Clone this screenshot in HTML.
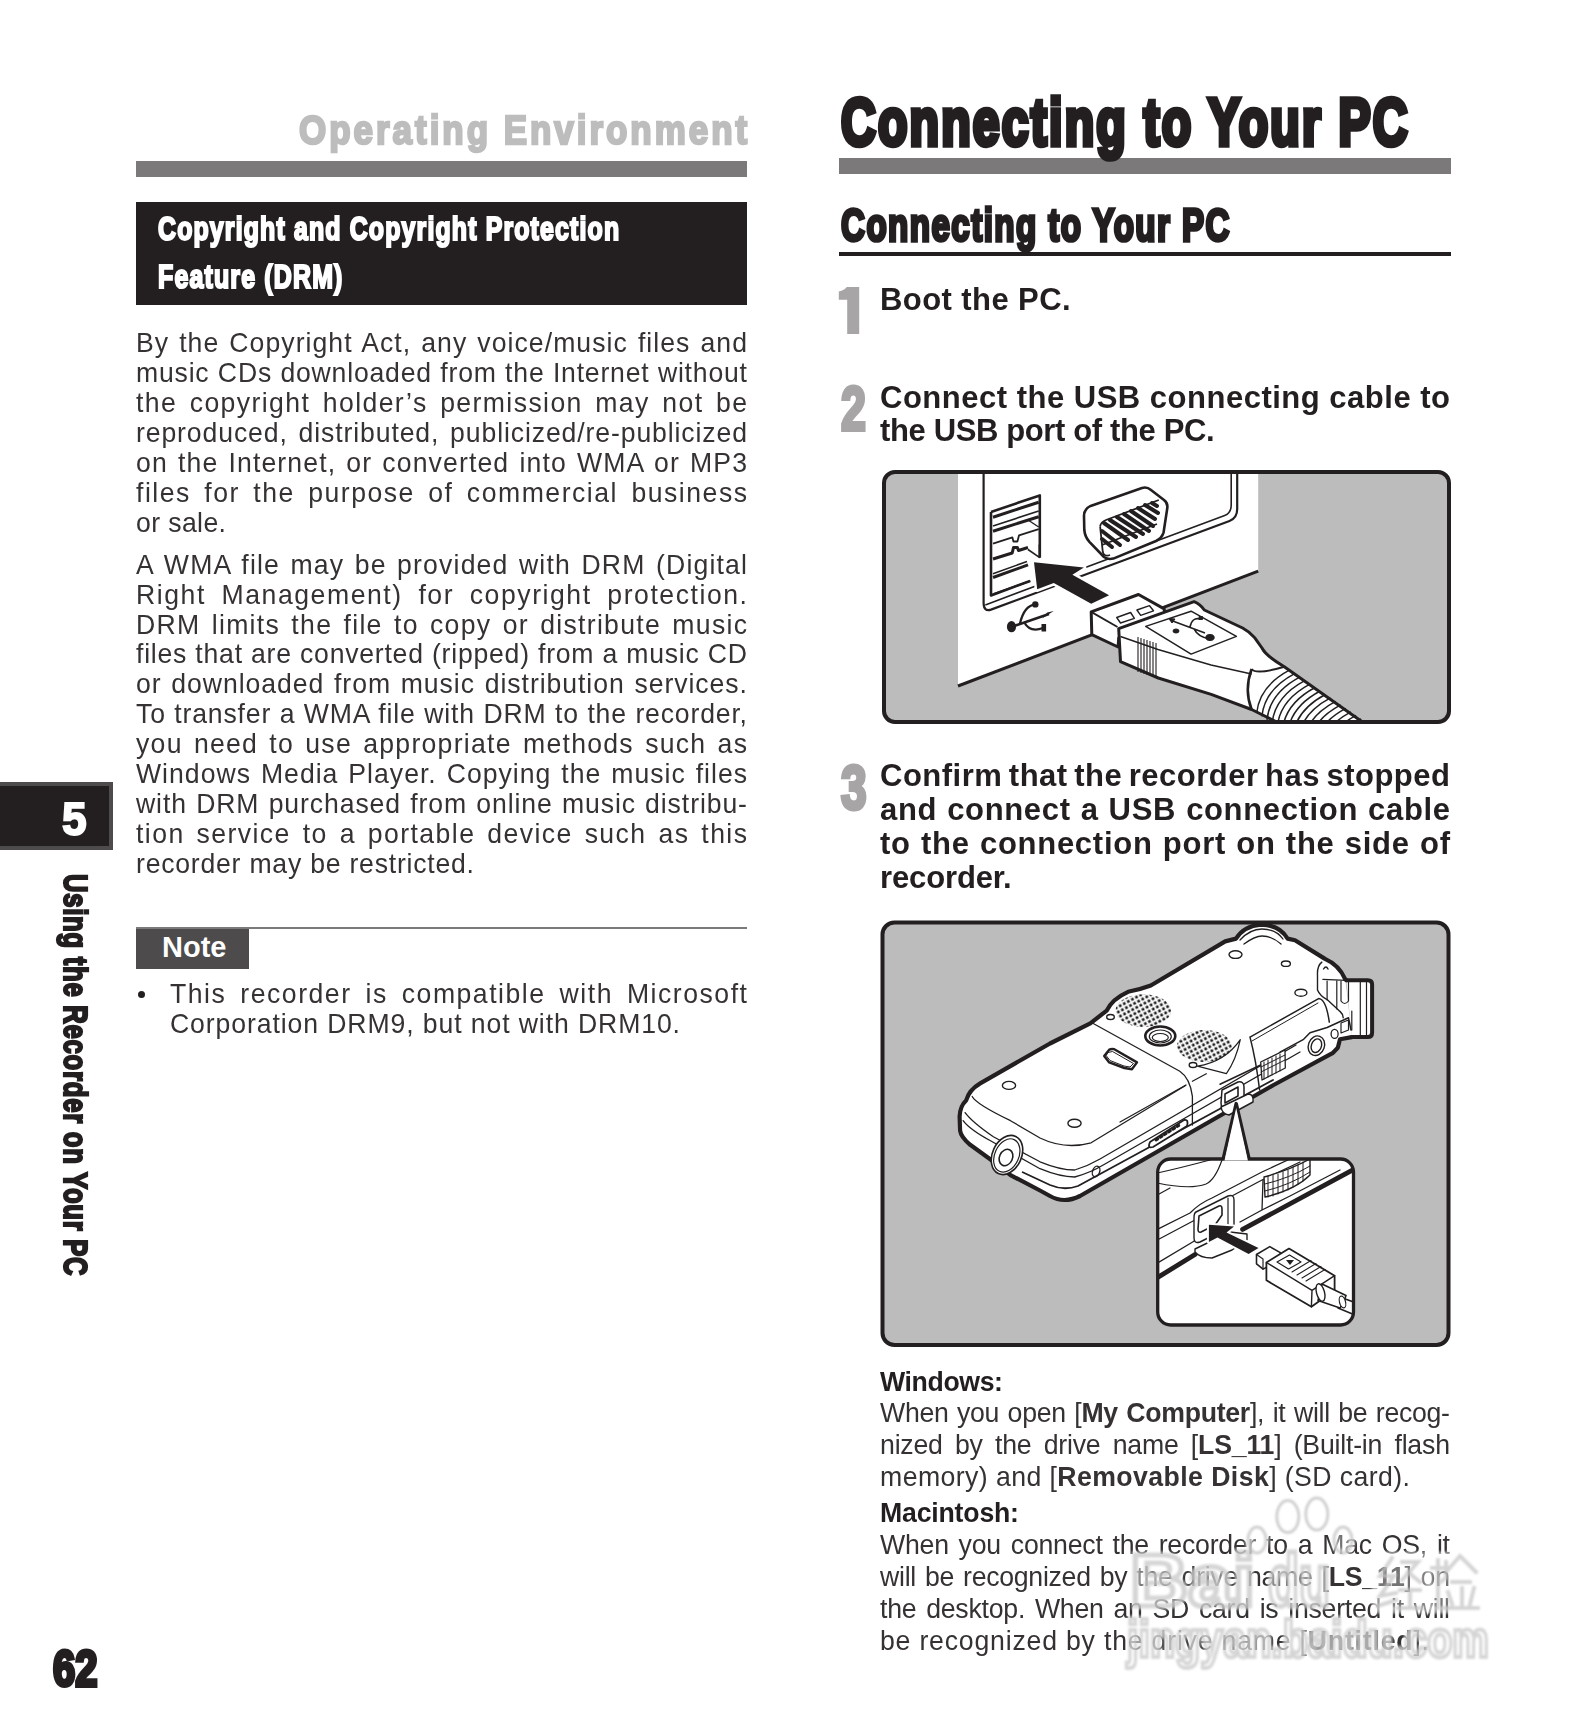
<!DOCTYPE html>
<html><head><meta charset="utf-8"><title>Connecting to Your PC</title>
<style>
html,body{margin:0;padding:0;background:#fff;}
body{width:1587px;height:1735px;position:relative;overflow:hidden;font-family:"Liberation Sans",sans-serif;color:#231f20;}
.t{position:absolute;white-space:pre;}
.r{position:absolute;}
.h{position:absolute;white-space:pre;font-weight:700;}
svg{position:absolute;}
</style></head><body>
<div class="r" style="left:136px;top:161px;width:611px;height:16px;background:#7b797a;"></div>
<div class="r" style="left:136px;top:202px;width:611px;height:103px;background:#231f20;"></div>
<div class="r" style="left:839px;top:158px;width:612px;height:16px;background:#7b797a;"></div>
<div class="r" style="left:839px;top:252px;width:612px;height:4px;background:#231f20;"></div>
<div class="r" style="left:136px;top:927px;width:611px;height:2px;background:#7b797a;"></div>
<div class="r" style="left:136px;top:929px;width:113px;height:40px;background:#4d4b4c;"></div>
<div class="r" style="left:0px;top:782px;width:113px;height:68px;background:#231f20;box-sizing:border-box;border:4px solid #4d4b4c;border-left:none"></div>
<div class="r" style="left:138px;top:990.7px;width:7.4px;height:7.4px;border-radius:50%;background:#231f20"></div>
<div class="h" style="right:837.40px;top:105.41px;font-size:41.37px;line-height:50px;color:#bdbdbd;letter-spacing:3.5px;transform:scaleX(0.846);transform-origin:right top;-webkit-text-stroke:2.5px #bdbdbd">Operating Environment</div>
<div class="h" style="left:158.40px;top:209.93px;font-size:32.5px;line-height:39px;color:#fff;letter-spacing:1.5px;transform:scaleX(0.766);transform-origin:left top;-webkit-text-stroke:2.2px #fff">Copyright and Copyright Protection</div>
<div class="h" style="left:158.40px;top:257.63px;font-size:32.5px;line-height:39px;color:#fff;letter-spacing:1.5px;transform:scaleX(0.768);transform-origin:left top;-webkit-text-stroke:2.2px #fff">Feature (DRM)</div>
<div class="h" style="left:840.70px;top:82.86px;font-size:66.01px;line-height:79px;color:#231f20;letter-spacing:3px;transform:scaleX(0.73);transform-origin:left top;-webkit-text-stroke:5.5px #231f20">Connecting to Your PC</div>
<div class="h" style="left:840.70px;top:197.87px;font-size:45.67px;line-height:55px;color:#231f20;letter-spacing:2px;transform:scaleX(0.7256);transform-origin:left top;-webkit-text-stroke:3.6px #231f20">Connecting to Your PC</div>
<svg style="left:836px;top:284px" width="26" height="53" viewBox="836 284 26 53"><path d="M838.8,299.8 V291.5 Q844.5,290 846.8,287 H859.2 V334 H847.2 V299.8 Z" fill="#a7a5a6"/></svg>
<div class="h" style="left:841.00px;top:370.64px;font-size:62.19px;line-height:75px;color:#a7a5a6;letter-spacing:0px;transform:scaleX(0.72);transform-origin:left top;-webkit-text-stroke:4px #a7a5a6">2</div>
<div class="h" style="left:841.00px;top:749.94px;font-size:62.19px;line-height:75px;color:#a7a5a6;letter-spacing:0px;transform:scaleX(0.74);transform-origin:left top;-webkit-text-stroke:4px #a7a5a6">3</div>
<div class="h" style="left:62.00px;top:790.17px;font-size:47.09px;line-height:57px;color:#fff;letter-spacing:0px;transform:scaleX(0.94);transform-origin:left top;-webkit-text-stroke:2px #fff">5</div>
<div class="h" style="left:53.00px;top:1638.60px;font-size:50.19px;line-height:60px;color:#231f20;letter-spacing:0px;transform:scaleX(0.796);transform-origin:left top;-webkit-text-stroke:4px #231f20">62</div>
<div class="h" style="left:162.00px;top:929.75px;font-size:29px;line-height:35px;color:#fff;letter-spacing:0px;transform:scaleX(1.0);transform-origin:left top;">Note</div>
<div class="h" style="left:62px;top:874px;width:0;height:0"><div style="position:absolute;left:0;top:0;transform:rotate(90deg);transform-origin:0 0"><div class="h" style="left:0;top:-34.59px;font-size:33px;line-height:44px;-webkit-text-stroke:2.2px #231f20;letter-spacing:1px;transform:scaleX(0.775);transform-origin:left top">Using the Recorder on Your PC</div></div></div>
<div class="t" style="left:136.00px;top:326.29px;font-size:28px;line-height:34px;font-weight:400;color:#363233;letter-spacing:1.109px;word-spacing:1.662px;transform:scaleX(0.95);transform-origin:left top">By the Copyright Act, any voice/music files and</div>
<div class="t" style="left:136.00px;top:356.29px;font-size:28px;line-height:34px;font-weight:400;color:#363233;letter-spacing:0.840px;word-spacing:0.247px;transform:scaleX(0.95);transform-origin:left top">music CDs downloaded from the Internet without</div>
<div class="t" style="left:136.00px;top:386.29px;font-size:28px;line-height:34px;font-weight:400;color:#363233;letter-spacing:1.473px;word-spacing:3.945px;transform:scaleX(0.95);transform-origin:left top">the copyright holder’s permission may not be</div>
<div class="t" style="left:136.00px;top:416.29px;font-size:28px;line-height:34px;font-weight:400;color:#363233;letter-spacing:0.935px;word-spacing:2.642px;transform:scaleX(0.95);transform-origin:left top">reproduced, distributed, publicized/re-publicized</div>
<div class="t" style="left:136.00px;top:446.29px;font-size:28px;line-height:34px;font-weight:400;color:#363233;letter-spacing:1.182px;word-spacing:1.719px;transform:scaleX(0.95);transform-origin:left top">on the Internet, or converted into WMA or MP3</div>
<div class="t" style="left:136.00px;top:476.29px;font-size:28px;line-height:34px;font-weight:400;color:#363233;letter-spacing:1.600px;word-spacing:4.688px;transform:scaleX(0.95);transform-origin:left top">files for the purpose of commercial business</div>
<div class="t" style="left:136.00px;top:506.29px;font-size:28px;line-height:34px;font-weight:400;color:#363233;letter-spacing:0.416px;transform:scaleX(0.95);transform-origin:left top">or sale.</div>
<div class="t" style="left:136.00px;top:547.79px;font-size:28px;line-height:34px;font-weight:400;color:#363233;letter-spacing:1.242px;word-spacing:1.945px;transform:scaleX(0.95);transform-origin:left top">A WMA file may be provided with DRM (Digital</div>
<div class="t" style="left:136.00px;top:577.69px;font-size:28px;line-height:34px;font-weight:400;color:#363233;letter-spacing:1.629px;word-spacing:7.119px;transform:scaleX(0.95);transform-origin:left top">Right Management) for copyright protection.</div>
<div class="t" style="left:136.00px;top:607.59px;font-size:28px;line-height:34px;font-weight:400;color:#363233;letter-spacing:1.371px;word-spacing:2.686px;transform:scaleX(0.95);transform-origin:left top">DRM limits the file to copy or distribute music</div>
<div class="t" style="left:136.00px;top:637.49px;font-size:28px;line-height:34px;font-weight:400;color:#363233;letter-spacing:0.811px;word-spacing:0.055px;transform:scaleX(0.95);transform-origin:left top">files that are converted (ripped) from a music CD</div>
<div class="t" style="left:136.00px;top:667.39px;font-size:28px;line-height:34px;font-weight:400;color:#363233;letter-spacing:0.998px;word-spacing:1.489px;transform:scaleX(0.95);transform-origin:left top">or downloaded from music distribution services.</div>
<div class="t" style="left:136.00px;top:697.29px;font-size:28px;line-height:34px;font-weight:400;color:#363233;letter-spacing:0.876px;word-spacing:0.323px;transform:scaleX(0.95);transform-origin:left top">To transfer a WMA file with DRM to the recorder,</div>
<div class="t" style="left:136.00px;top:727.19px;font-size:28px;line-height:34px;font-weight:400;color:#363233;letter-spacing:1.342px;word-spacing:2.662px;transform:scaleX(0.95);transform-origin:left top">you need to use appropriate methods such as</div>
<div class="t" style="left:136.00px;top:757.09px;font-size:28px;line-height:34px;font-weight:400;color:#363233;letter-spacing:1.066px;word-spacing:1.595px;transform:scaleX(0.95);transform-origin:left top">Windows Media Player. Copying the music files</div>
<div class="t" style="left:136.00px;top:786.99px;font-size:28px;line-height:34px;font-weight:400;color:#363233;letter-spacing:0.955px;word-spacing:0.954px;transform:scaleX(0.95);transform-origin:left top">with DRM purchased from online music distribu-</div>
<div class="t" style="left:136.00px;top:816.89px;font-size:28px;line-height:34px;font-weight:400;color:#363233;letter-spacing:1.506px;word-spacing:3.249px;transform:scaleX(0.95);transform-origin:left top">tion service to a portable device such as this</div>
<div class="t" style="left:136.00px;top:846.79px;font-size:28px;line-height:34px;font-weight:400;color:#363233;letter-spacing:0.816px;transform:scaleX(0.95);transform-origin:left top">recorder may be restricted.</div>
<div class="t" style="left:170.00px;top:977.29px;font-size:28px;line-height:34px;font-weight:400;color:#363233;letter-spacing:1.598px;word-spacing:5.357px;transform:scaleX(0.95);transform-origin:left top">This recorder is compatible with Microsoft</div>
<div class="t" style="left:170.00px;top:1007.29px;font-size:28px;line-height:34px;font-weight:400;color:#363233;letter-spacing:0.950px;transform:scaleX(0.95);transform-origin:left top">Corporation DRM9, but not with DRM10.</div>
<div class="t" style="left:880.00px;top:279.91px;font-size:32px;line-height:38px;font-weight:700;color:#231f20;letter-spacing:0.410px;transform:scaleX(0.97);transform-origin:left top">Boot the PC.</div>
<div class="t" style="left:880.00px;top:377.91px;font-size:32px;line-height:38px;font-weight:700;color:#231f20;letter-spacing:0.500px;word-spacing:-0.018px;transform:scaleX(0.97);transform-origin:left top">Connect the USB connecting cable to</div>
<div class="t" style="left:880.00px;top:411.41px;font-size:32px;line-height:38px;font-weight:700;color:#231f20;letter-spacing:-0.401px;transform:scaleX(0.97);transform-origin:left top">the USB port of the PC.</div>
<div class="t" style="left:880.00px;top:755.91px;font-size:32px;line-height:38px;font-weight:700;color:#231f20;letter-spacing:0.500px;word-spacing:-2.712px;transform:scaleX(0.97);transform-origin:left top">Confirm that the recorder has stopped</div>
<div class="t" style="left:880.00px;top:789.91px;font-size:32px;line-height:38px;font-weight:700;color:#231f20;letter-spacing:0.654px;word-spacing:0.831px;transform:scaleX(0.97);transform-origin:left top">and connect a USB connection cable</div>
<div class="t" style="left:880.00px;top:823.91px;font-size:32px;line-height:38px;font-weight:700;color:#231f20;letter-spacing:0.729px;word-spacing:0.964px;transform:scaleX(0.97);transform-origin:left top">to the connection port on the side of</div>
<div class="t" style="left:880.00px;top:857.91px;font-size:32px;line-height:38px;font-weight:700;color:#231f20;letter-spacing:-0.149px;transform:scaleX(0.97);transform-origin:left top">recorder.</div>
<div class="t" style="left:880.00px;top:1364.97px;font-size:27.5px;line-height:33px;font-weight:700;color:#231f20;letter-spacing:-0.399px;transform:scaleX(0.97);transform-origin:left top">Windows:</div>
<div class="t" style="left:880.00px;top:1396.47px;font-size:27.5px;line-height:33px;font-weight:400;color:#363233;letter-spacing:-0.305px;word-spacing:1.426px;transform:scaleX(0.97);transform-origin:left top">When you open [<b>My Computer</b>], it will be recog-</div>
<div class="t" style="left:880.00px;top:1428.47px;font-size:27.5px;line-height:33px;font-weight:400;color:#363233;letter-spacing:-0.211px;word-spacing:5.187px;transform:scaleX(0.97);transform-origin:left top">nized by the drive name [<b>LS_11</b>] (Built-in flash</div>
<div class="t" style="left:880.00px;top:1460.47px;font-size:27.5px;line-height:33px;font-weight:400;color:#363233;letter-spacing:0.423px;transform:scaleX(0.97);transform-origin:left top">memory) and [<b>Removable Disk</b>] (SD card).</div>
<div class="t" style="left:880.00px;top:1496.47px;font-size:27.5px;line-height:33px;font-weight:700;color:#231f20;letter-spacing:-0.205px;transform:scaleX(0.97);transform-origin:left top">Macintosh:</div>
<div class="t" style="left:880.00px;top:1528.47px;font-size:27.5px;line-height:33px;font-weight:400;color:#363233;letter-spacing:-0.248px;word-spacing:2.817px;transform:scaleX(0.97);transform-origin:left top">When you connect the recorder to a Mac OS, it</div>
<div class="t" style="left:880.00px;top:1560.47px;font-size:27.5px;line-height:33px;font-weight:400;color:#363233;letter-spacing:-0.291px;word-spacing:1.937px;transform:scaleX(0.97);transform-origin:left top">will be recognized by the drive name [<b>LS_11</b>] on</div>
<div class="t" style="left:880.00px;top:1592.27px;font-size:27.5px;line-height:33px;font-weight:400;color:#363233;letter-spacing:-0.256px;word-spacing:2.773px;transform:scaleX(0.97);transform-origin:left top">the desktop. When an SD card is inserted it will</div>
<div class="t" style="left:880.00px;top:1623.97px;font-size:27.5px;line-height:33px;font-weight:400;color:#363233;letter-spacing:0.811px;transform:scaleX(0.97);transform-origin:left top">be recognized by the drive name [<b>Untitled</b>].</div>
<svg style="left:880px;top:468px" width="573" height="258" viewBox="880 468 573 258">
<defs><clipPath id="c1"><rect x="884" y="472" width="565" height="250" rx="10"/></clipPath></defs>
<rect x="884" y="472" width="565" height="250" rx="11" fill="#bcbcbc"/>
<g clip-path="url(#c1)" stroke="#231f20" fill="none" stroke-linejoin="round">
 <!-- PC back panel -->
 <path d="M958,470 H1258.2 V571.2 L958,686 Z" fill="#fff" stroke="none"/>
 <path d="M958,686 L1258.2,571.2" stroke-width="3"/>
 <!-- frame -->
 <path d="M983.6,470 V603 Q983.6,612 991,609.6 L1229.5,521 Q1237.2,518 1237.2,509 V470" stroke-width="2.2"/>
 <path d="M985.3,604.9 L1224.7,515.5 Q1231.2,513 1231.2,505 V470" stroke-width="1.6"/>
 <!-- USB port -->
 <path d="M991,512 L1039.8,495.4 V557.7 M991,512 V595.5 L1030,581" stroke-width="2.6" fill="#fff"/>
 <path d="M993,517.2 L1038.7,502.2 M993,531.2 L1038.7,516.7" stroke-width="3"/>
 <path d="M993,526 L1038.7,511" stroke-width="1.6"/>
 <path d="M993,543.7 L1012.4,537.4 L1013.4,541.5 L1017.4,541.5 L1019,535.4 L1038.7,529.2" stroke-width="1.8"/>
 <path d="M993,559 L1012.2,553 L1013.5,547.6 L1017.4,547.6 L1018.5,550.5 L1028,547.5" stroke-width="3"/>
 <path d="M1028,549.5 L1039.4,557.4 V544.5" stroke-width="1.6"/>
 <path d="M1028,520 L1038.7,527" stroke-width="1.4"/>
 <path d="M993,573.7 L1027,561.5" stroke-width="1.6"/>
 <path d="M993,577.5 L1028,564.9" stroke-width="3"/>
 <path d="M993,594 L1030.5,581" stroke-width="1.8"/>
 <!-- VGA connector -->
 <path d="M1090.6,505.9 L1142,488 Q1147,486.5 1151,490 L1164,500 Q1168,503 1167.3,508 L1163.6,532.3 Q1162,538 1156,541 L1113.3,558.6 Q1108,560 1104,557 L1089.4,541.8 Q1085,537 1084.3,530 L1084,516 Q1084,509 1090.6,505.9 Z" fill="#fff" stroke-width="2.6"/>
 <path d="M1100.1,526.3 Q1101,522 1106,520 L1158.8,500 M1100.1,526.3 L1102.8,552 Q1104,557 1110,555 M1102,545 L1157,524" stroke-width="1.8"/>
 <g stroke-width="4" stroke-linecap="round">
  <path d="M1104,523 L1128,540 M1110,520 L1136,537 M1117,517 L1143,534 M1124,514 L1149,531 M1131,511 L1153,526 M1138,508 L1155,519 M1145,505 L1158,513 M1152,503 L1157,506"/>
  <path d="M1102,531 L1120,545 M1102,539 L1112,547"/>
 </g>
 <path d="M1135,470" />
 <!-- USB symbol -->
 <g fill="#231f20" stroke="none">
  <ellipse cx="1011.5" cy="626.7" rx="4.6" ry="5.6"/>
  <circle cx="1035.3" cy="604.4" r="3.2"/>
  <path d="M1042,618.5 L1053.8,611 L1047.2,612.6 Z"/>
  <rect x="1041.5" y="624" width="4.6" height="7.5"/>
 </g>
 <path d="M1014,626 L1049,614" stroke-width="2.6"/>
 <path d="M1020,623.5 Q1024,606 1035,604.4 M1024,622 Q1030,633 1043,628" stroke-width="2.3"/>
 <!-- arrow -->
 <path d="M1034,562.3 L1083.9,567.5 L1072.4,574.8 L1109.1,595.2 L1091.2,603.7 L1053.8,583.1 L1037.2,589.3 Z" fill="#231f20" stroke="#fff" stroke-width="5" paint-order="stroke"/>
 <!-- plug metal shell -->
 <path d="M1091.2,611.9 L1138.5,594.5 L1164.2,608.9 L1165,620 L1118.7,638 L1118.1,647 L1091.8,634.6 Z" fill="#fff" stroke-width="3"/>
 <path d="M1091.2,611.9 L1117.5,627" stroke-width="1.8"/>
 <path d="M1116.7,617.5 L1130.6,612.5 L1134.4,618.3 L1120.5,623 Z M1136.9,610 L1149.5,605.7 L1153.5,610.8 L1140.7,615.3 Z" stroke-width="1.4"/>
 <!-- plug body -->
 <path d="M1118.7,628.6 L1194.1,601.7 Q1200,604 1204.3,610 L1242.6,628 Q1250,632 1254.6,637.6 L1262,648 Q1266,656 1284.3,666.7 L1362.4,722 L1276.8,722 L1251.6,709.5 L1211.2,694.4 L1158.3,678 L1120.5,661.6 Z" fill="#fff" stroke-width="3"/>
 <path d="M1145.7,626.4 L1191.1,611.2 L1236.4,636.4 L1191.1,654.1 Z" stroke-width="1.5"/>
 <path d="M1138,637 V672 M1141,638 V673 M1144,639 V674 M1147,640 V675 M1150,641 V676 M1153,642 V677 M1156,643 V678" stroke-width="1.1"/>
 <path d="M1120.5,636.5 L1158,649.5 L1211,665 L1251.6,674" stroke-width="1.5"/>
 <!-- usb logo on plug -->
 <path d="M1170,620 L1205,633 M1190,627 Q1192,617 1200,619 M1194,628.8 Q1198,637 1210,639" stroke="#231f20" stroke-width="1.6"/>
 <g fill="#231f20"><ellipse cx="1210" cy="637.5" rx="4.2" ry="3"/><ellipse cx="1176" cy="631" rx="3" ry="2"/><path d="M1169,618.5 L1175,619 L1172,623 Z"/><rect x="1199" y="616.5" width="3.5" height="3"/></g>
 <!-- cable boot ridges -->
 <path d="M1251.6,669 Q1244,690 1251.6,709.5" stroke-width="2.6"/>
 <path d="M1284.3,666.7 Q1256,675 1251.6,669" stroke-width="2"/>
 <path d="M1289.4,670.2 Q1259.4,686.2 1256.7,713.0 M1294.6,673.6 Q1264.6,689.6 1261.9,716.4 M1299.7,677.1 Q1269.7,693.1 1267.0,719.9 M1304.8,680.6 Q1274.8,696.6 1272.1,723.4 M1309.9,684.1 Q1279.9,700.1 1277.2,726.9 M1315.1,687.5 Q1285.1,703.5 1282.4,730.3 M1320.2,691.0 Q1290.2,707.0 1287.5,733.8 M1325.3,694.5 Q1295.3,710.5 1292.6,737.3 M1330.4,697.9 Q1300.4,713.9 1297.7,740.7 M1335.6,701.4 Q1305.6,717.4 1302.9,744.2 M1340.7,704.9 Q1310.7,720.9 1308.0,747.7 M1345.8,708.4 Q1315.8,724.4 1313.1,751.2 M1350.9,711.8 Q1320.9,727.8 1318.2,754.6 M1356.1,715.3 Q1326.1,731.3 1323.4,758.1 M1361.2,718.8 Q1331.2,734.8 1328.5,761.6 M1366.3,722.2 Q1336.3,738.2 1333.6,765.0" stroke-width="1.5"/>
</g>
<rect x="884" y="472" width="565" height="250" rx="11" fill="none" stroke="#231f20" stroke-width="4"/>
</svg>

<svg style="left:878px;top:918px" width="575" height="430" viewBox="878 918 575 430">
<defs>
 <clipPath id="c2"><rect x="882.5" y="922.5" width="566" height="422.5" rx="11"/></clipPath>
 <pattern id="dots" patternUnits="userSpaceOnUse" width="4.6" height="4.6" patternTransform="rotate(-28)">
  <rect x="0.4" y="0.4" width="2.7" height="2.7" fill="#231f20"/>
 </pattern>
 <clipPath id="inset"><rect x="1157.7" y="1159" width="195.8" height="166" rx="13"/></clipPath>
</defs>
<rect x="882.5" y="922.5" width="566" height="422.5" rx="12" fill="#bcbcbc"/>
<g clip-path="url(#c2)" stroke="#231f20" fill="none" stroke-linejoin="round" stroke-linecap="round">
 <!-- recorder body -->
 <path d="M959.6,1116.6 Q960,1106 966.1,1100.5 Q969,1090 980.2,1083.4 L1050,1043.5 L1090.3,1023.3 L1106.7,1010.7 Q1112,999 1128.1,991.8 Q1140,989.5 1150.8,985.5 L1225.2,941.4 L1236,938.6 Q1244,926 1260.7,924.6 Q1280,925 1287.5,938.6 L1295,940.2 L1325,958.9 Q1339,965 1345.3,979.3 L1352,1037 L1340,1039.3 L1337.8,1047.8 L1332.5,1053.2 L1273.6,1085 L1080,1196 Q1064,1204 1050,1196 L1040,1190.5 L1010.5,1175.1 L995.4,1163 L970.2,1144.8 Q961,1137 960.1,1130.7 Z" fill="#fff" stroke="none"/>
 <path d="M1346.4,980.3 L1345.3,979.3 Q1339,965 1325,958.9 L1295,940.2 L1287.5,938.6 Q1280,925 1260.7,924.6 Q1244,926 1236,938.6 L1225.2,941.4 L1150.8,985.5 Q1140,989.5 1128.1,991.8 Q1112,999 1106.7,1010.7 L1090.3,1023.3 L1050,1043.5 L980.2,1083.4 Q969,1090 966.1,1100.5 Q960,1106 959.6,1116.6 L960.1,1130.7 Q961,1137 970.2,1144.8 L995.4,1163 L1010.5,1175.1 L1040,1190.5 L1050,1196 Q1064,1204 1080,1196 L1273.6,1085 L1332.5,1053.2 L1337.8,1047.8 L1340,1039.3 L1351.8,1037.1" stroke-width="4.2"/>
 <!-- SD card -->
 <path d="M1346.4,980.3 H1367.8 Q1372.1,980.3 1372.1,984.6 V1032.8 Q1372.1,1037.1 1367.8,1037.1 H1351.8" fill="#fff" stroke-width="4"/>
 <path d="M1322.8,979.3 L1346.4,980.3 M1327.1,981 V1000 M1336.8,981 V1009 M1360.3,982 V1035 M1366.5,982 V1035 M1341,981 V1001 Q1344.5,1006 1348.5,1001 V981" stroke-width="1.2"/>
 <path d="M1321.8,962.1 Q1317,966 1317.5,975 V990 Q1320,996 1327.1,999.6 L1340,1011.4 Q1343,1014 1343.2,1017.8" stroke-width="1.4"/>
 <path d="M1323.5,969 Q1326,965 1328,969" stroke-width="1.4"/>
 <path d="M1351.8,1011 V1030 M1341,1023 L1348.5,1020 V1030 L1341,1033 Z" stroke-width="1.2"/>
 <!-- mic dome -->
 <path d="M1240,940 Q1250,929 1262,929 Q1276,929 1283,939" stroke-width="1.3"/>
 <path d="M1244,944 Q1255,936 1262,936 Q1272,936 1281,944" stroke-width="1.3"/>
 <!-- top face boundary -->
 <path d="M972.2,1096.5 Q976,1104 1010.5,1120.7 L1040,1138 Q1065,1150 1091.1,1142.8 L1185.6,1085.5" stroke-width="1.3"/>
 <path d="M965.1,1112.6 Q972,1122 993.4,1136.8 L1040,1161.8 Q1060,1170 1074.7,1170 Q1088,1166 1100,1159 L1296,1045" stroke-width="1.3"/>
 <path d="M963.1,1120.7 Q970,1130 992.3,1141.8 L1040,1168.7 Q1060,1177 1074.7,1177 Q1090,1173 1105,1164 L1300,1052" stroke-width="1.3"/>
 <path d="M1022.7,1172.2 L1050,1185 Q1064,1191 1078,1186 L1273,1080" stroke-width="1.8"/>
 <!-- right side band -->
 <path d="M1220,1084.3 L1260.7,1065 L1277.8,1055.3 L1280,1052.1 L1303.6,1039.3 L1310,1032.8 L1327.1,1027.5 L1348.5,1017.8 L1351,1030" stroke-width="1.5"/>
 <path d="M1250,1037.1 L1318.6,998.6 Q1326,999 1329.3,1022.1 M1250,1037.1 Q1256,1060 1259.6,1090" stroke-width="1.5"/>
 <path d="M1252,1041 L1318,1003" stroke-width="1"/>
 <ellipse cx="1316.4" cy="1045.7" rx="8" ry="10" transform="rotate(20 1316.4 1045.7)" stroke-width="1.4"/>
 <ellipse cx="1316.4" cy="1045.7" rx="5" ry="7" transform="rotate(20 1316.4 1045.7)" stroke-width="1.4"/>
 <ellipse cx="1334.6" cy="1033.9" rx="3.5" ry="4.5" stroke-width="1.3"/>
 <!-- knurled dial -->
 <path d="M1260.7,1062 L1285,1050 L1285.3,1068 L1262,1080 Z" fill="#fff" stroke-width="1.3"/>
 <path d="M1264,1062 V1079 M1268,1060 V1077 M1272,1058 V1075 M1276,1056 V1073 M1280,1054 V1071 M1261,1067 L1285,1055 M1261,1072 L1285,1060" stroke-width="1"/>
 <!-- holes -->
 <g stroke-width="1.4">
  <ellipse cx="1009" cy="1085.4" rx="6.6" ry="4"/>
  <ellipse cx="1074.5" cy="1123.2" rx="6.6" ry="4"/>
  <ellipse cx="1096.1" cy="1171.5" rx="3.5" ry="5.5" transform="rotate(20 1096.1 1171.5)"/>
  <ellipse cx="1110.5" cy="1017" rx="3.8" ry="2.5"/>
  <ellipse cx="1193" cy="1065" rx="3.8" ry="2.5"/>
  <ellipse cx="1235.5" cy="954.6" rx="6.5" ry="3.8"/>
  <ellipse cx="1285.9" cy="963.7" rx="4.5" ry="2.7"/>
  <ellipse cx="1300.9" cy="992.7" rx="6" ry="3.5"/>
 </g>
 <!-- battery cover -->
 <path d="M1092.8,1023.3 L1179.8,1071.2 Q1190,1078 1192.4,1096.4 V1125" stroke-width="1.3"/>
 <path d="M1186,1085 L1120,1122" stroke-width="1.3"/>
 <path d="M1192.4,1081.3 L1206.3,1073.7" stroke-width="1.3"/>
 <path d="M1109.2,1049.8 Q1111,1048.5 1114.3,1049.2 L1137,1062.4 L1131.9,1069.3 L1124.4,1068 L1109.2,1062.4 L1104.2,1056.1 Z" stroke-width="2.4"/>
 <path d="M1108,1052.5 L1112.5,1051.5 L1133.5,1063.5 L1130,1067 L1124,1066 L1110,1060.5 L1106.5,1056 Z" stroke-width="1"/>
 <!-- speaker grilles -->
 <ellipse cx="1143.3" cy="1010.7" rx="27.7" ry="16.4" fill="url(#dots)" stroke="none"/>
 <ellipse cx="1204.4" cy="1046" rx="27.5" ry="16" fill="url(#dots)" stroke="none"/>
 <!-- tripod socket -->
 <ellipse cx="1160.3" cy="1036" rx="15" ry="9.5" stroke-width="2.6"/>
 <ellipse cx="1160.3" cy="1036.5" rx="11" ry="6.5" stroke-width="1.2"/>
 <ellipse cx="1160.3" cy="1037.5" rx="8" ry="4" stroke-width="1.2"/>
 <!-- wedge near grille -->
 <path d="M1240.3,1039.7 Q1236,1060 1226.4,1073.7 L1197.4,1066.2 Q1225,1062 1240.3,1039.7" stroke-width="1.2"/>
 <!-- jack -->
 <ellipse cx="1007" cy="1155" rx="14.5" ry="20.5" transform="rotate(25 1007 1155)" fill="#fff" stroke-width="1.6"/>
 <ellipse cx="1007" cy="1155.5" rx="12" ry="17.5" transform="rotate(25 1007 1155)" stroke-width="1.2"/>
 <ellipse cx="1006" cy="1157.5" rx="6.5" ry="8.5" transform="rotate(25 1006 1157.5)" stroke-width="1.6"/>
 <!-- dock connector -->
 <path d="M1150,1142 L1184,1120 Q1189,1119 1187,1126 L1153,1147 Q1147,1149 1150,1142 Z" fill="#fff" stroke-width="1.8"/>
 <path d="M1156,1140 L1181,1124" stroke-width="3" stroke-dasharray="2 3"/>
 <!-- usb port on side -->
 <path d="M1222,1090 L1238,1082 Q1244,1081 1244,1087 V1098 L1226,1108 Q1221,1109 1221,1103 Z" fill="#fff" stroke-width="1.5"/>
 <path d="M1225,1094 L1238,1087 V1096 L1225,1103 Z" stroke-width="1.6"/>
 <path d="M1221,1107 L1248,1094 Q1254,1094 1253,1102 L1229,1115 Q1222,1114 1221,1107" fill="#fff" stroke-width="1.5"/>
 <!-- callout pointer -->
 <path d="M1223,1160 L1236.2,1103.6 L1249.3,1160" fill="#fff" stroke-width="3.5" stroke-linecap="butt"/>
 <!-- inset -->
 <rect x="1157.7" y="1159" width="195.8" height="166" rx="13" fill="#fff" stroke="none"/>
 <g clip-path="url(#inset)">
  <path d="M1157.3,1277.7 L1195,1254.5 M1242.6,1229.4 L1360,1166" stroke-width="4.8"/>
  <path d="M1157.3,1263.1 L1196,1240" stroke-width="1.3"/>
  <path d="M1157.3,1240 L1195,1220 Q1205,1212 1215,1205 L1262,1180 L1300,1162" stroke-width="1.3"/>
  <path d="M1157.3,1229.4 L1190,1213 Q1200,1203 1212,1198 L1262,1172 L1290,1159" stroke-width="1.3"/>
  <path d="M1240,1222 L1262,1210 L1263,1180 M1262,1210 L1290,1196 L1340,1170" stroke-width="1.3"/>
  <path d="M1157.3,1173 Q1180,1168 1210,1160 M1157.3,1183 Q1190,1190 1206,1184 Q1215,1180 1222,1160" stroke-width="1.2"/>
  <path d="M1157.3,1195 L1170,1188" stroke-width="1.2"/>
  <!-- dial -->
  <path d="M1264,1177 Q1290,1170 1310,1159 L1310,1175 Q1295,1190 1265,1197 Z" fill="#fff" stroke-width="1.4"/>
  <path d="M1268,1176 V1197 M1273,1175 V1196 M1278,1174 V1194 M1283,1172 V1192 M1288,1170 V1190 M1293,1167 V1187 M1298,1165 V1184 M1303,1162 V1181 M1265,1184 Q1290,1178 1310,1166 M1265,1191 Q1290,1185 1310,1172" stroke-width="1"/>
  <!-- port -->
  <path d="M1196,1212 L1228,1196 Q1234,1194 1234,1200 V1225 L1200,1242 Q1194,1244 1194,1238 V1218 Q1194,1213 1196,1212 Z" fill="#fff" stroke-width="1.4"/>
  <path d="M1199,1216 L1219,1206 Q1222,1205 1222,1209 V1215 L1215,1225 L1201,1232 Q1198,1233 1198,1229 Z" stroke-width="1.6"/>
  <path d="M1228,1198 V1230" stroke-width="1.2"/>
  <!-- cover tab -->
  <path d="M1195,1249 L1230,1232 L1247,1234 V1240 L1232,1250 L1212,1258 Q1200,1258 1195,1252 Z" fill="#fff" stroke-width="1.4"/>
  <!-- arrow -->
  <path d="M1208.9,1224.8 L1234,1226.5 L1226.5,1232.5 L1258.5,1247.9 L1248.6,1253.9 L1217.5,1237.5 L1208.9,1242 Z" fill="#231f20" stroke="#fff" stroke-width="4" paint-order="stroke"/>
  <!-- plug -->
  <path d="M1256.5,1254.5 L1269.8,1246.6 L1280.3,1252.6 V1260 L1263.1,1269.1 L1256.5,1263.8 Z" fill="#fff" stroke-width="1.6"/>
  <path d="M1256.5,1254.5 L1263,1259 V1269" stroke-width="1.2"/>
  <path d="M1266.4,1262.5 L1289,1248.6 L1334.6,1275.7 V1290.3 L1311.4,1306.8 L1266.4,1280.3 Z" fill="#fff" stroke-width="1.8"/>
  <path d="M1266.4,1262.5 L1312,1290.3 L1334.6,1275.7 M1312,1290.3 L1311.4,1306.8" stroke-width="1.4"/>
  <path d="M1277,1262 L1289.5,1255 L1301,1262 L1288.5,1269 Z" stroke-width="1.2"/>
  <path d="M1286,1260 L1290,1265 L1294,1260 Z" fill="#231f20" stroke="none"/>
  <path d="M1292,1272 L1311,1260.5 M1297,1275 L1316,1263.5 M1302,1278 L1321,1266.5 M1306,1281 L1325,1269.5" stroke-width="1.1"/>
  <path d="M1341,1297.5 L1362,1305 L1362,1318 L1338,1308 Z" fill="#fff" stroke="none"/>
  <path d="M1341,1297.5 L1362,1305 M1338,1308 L1362,1318" stroke-width="1.6"/>
  <path d="M1322,1284 L1346,1295.5 Q1344,1303 1340,1308 L1318,1300.5 Z" fill="#fff" stroke-width="1.6"/>
  <ellipse cx="1320.5" cy="1292.5" rx="4" ry="9" transform="rotate(-15 1320.5 1292.5)" fill="#fff" stroke-width="1.4"/>
  <ellipse cx="1342.5" cy="1302" rx="3" ry="6" transform="rotate(-15 1342.5 1302)" fill="#fff" stroke-width="1.2"/>
 </g>
 <rect x="1157.7" y="1159" width="195.8" height="166" rx="13" fill="none" stroke-width="3.3"/>
 <path d="M1224.5,1160.5 L1236.2,1108 L1247.9,1160.5" fill="#fff" stroke="none"/>
</g>
<rect x="882.5" y="922.5" width="566" height="422.5" rx="12" fill="none" stroke="#231f20" stroke-width="4"/>
</svg>

<svg style="left:1100px;top:1480px" width="400" height="200" viewBox="1100 1480 400 200">
<defs><filter id="blur1" x="-10%" y="-10%" width="120%" height="120%"><feGaussianBlur stdDeviation="1.2"/></filter></defs>
<g filter="url(#blur1)" opacity="0.9">
 <g fill="#fff" fill-opacity="0.35" stroke="#fff" stroke-opacity="0.6" stroke-width="7">
  <ellipse cx="1287.8" cy="1516.6" rx="11" ry="16"/>
  <ellipse cx="1316.8" cy="1514.1" rx="11" ry="16"/>
  <ellipse cx="1257" cy="1540" rx="9" ry="13"/>
  <ellipse cx="1343" cy="1540" rx="9" ry="13"/>
  <text x="1130" y="1606" font-family="Liberation Sans" font-weight="700" font-size="74" textLength="125" lengthAdjust="spacingAndGlyphs">Bai</text>
  <text x="1268" y="1606" font-family="Liberation Sans" font-weight="700" font-size="74" textLength="62" lengthAdjust="spacingAndGlyphs">du</text>
  <text x="1127" y="1657" font-family="Liberation Sans" font-weight="700" font-size="52" textLength="362" lengthAdjust="spacingAndGlyphs">jingyan.baidu.com</text>
  <path d="M1375,1555 h45 v55 h-45 z M1428,1555 h52 v55 h-52 z"/>
 </g>
 <g fill="none" stroke="#c4c4c4" stroke-opacity="0.9" stroke-width="3">
  <ellipse cx="1287.8" cy="1516.6" rx="11" ry="16"/>
  <ellipse cx="1316.8" cy="1514.1" rx="11" ry="16"/>
  <ellipse cx="1257" cy="1540" rx="9" ry="13"/>
  <ellipse cx="1343" cy="1540" rx="9" ry="13"/>
 </g>
 <g fill="#d2d2d2" fill-opacity="0.75" stroke="#bdbdbd" stroke-opacity="0.7" stroke-width="1.5">
  <text x="1130" y="1606" font-family="Liberation Sans" font-weight="700" font-size="74" textLength="125" lengthAdjust="spacingAndGlyphs" fill="none" stroke-width="5">Bai</text>
  <text x="1268" y="1606" font-family="Liberation Sans" font-weight="700" font-size="74" textLength="62" lengthAdjust="spacingAndGlyphs" fill="none" stroke-width="5">du</text>
  <text x="1127" y="1657" font-family="Liberation Sans" font-weight="700" font-size="52" textLength="362" lengthAdjust="spacingAndGlyphs" fill="none" stroke-width="4">jingyan.baidu.com</text>
 </g>
 <g fill="none" stroke="#c8c8c8" stroke-opacity="0.85" stroke-width="4" stroke-linecap="square">
  <path d="M1392,1558 l-12,18 h14 l-14,20 l16,-3 M1378,1606 l18,-6 M1402,1562 h16 l-16,18 M1408,1572 l12,10 M1400,1590 h20 M1410,1590 v18 M1398,1608 h24"/>
  <path d="M1438,1560 v48 M1432,1568 h14 M1446,1562 v16 l-8,6 M1460,1556 l-14,16 M1460,1556 l16,16 M1452,1582 h18 M1448,1592 l4,12 M1462,1588 v16 M1474,1588 l-4,16 M1444,1608 h34"/>
 </g>
</g>
</svg>

</body></html>
